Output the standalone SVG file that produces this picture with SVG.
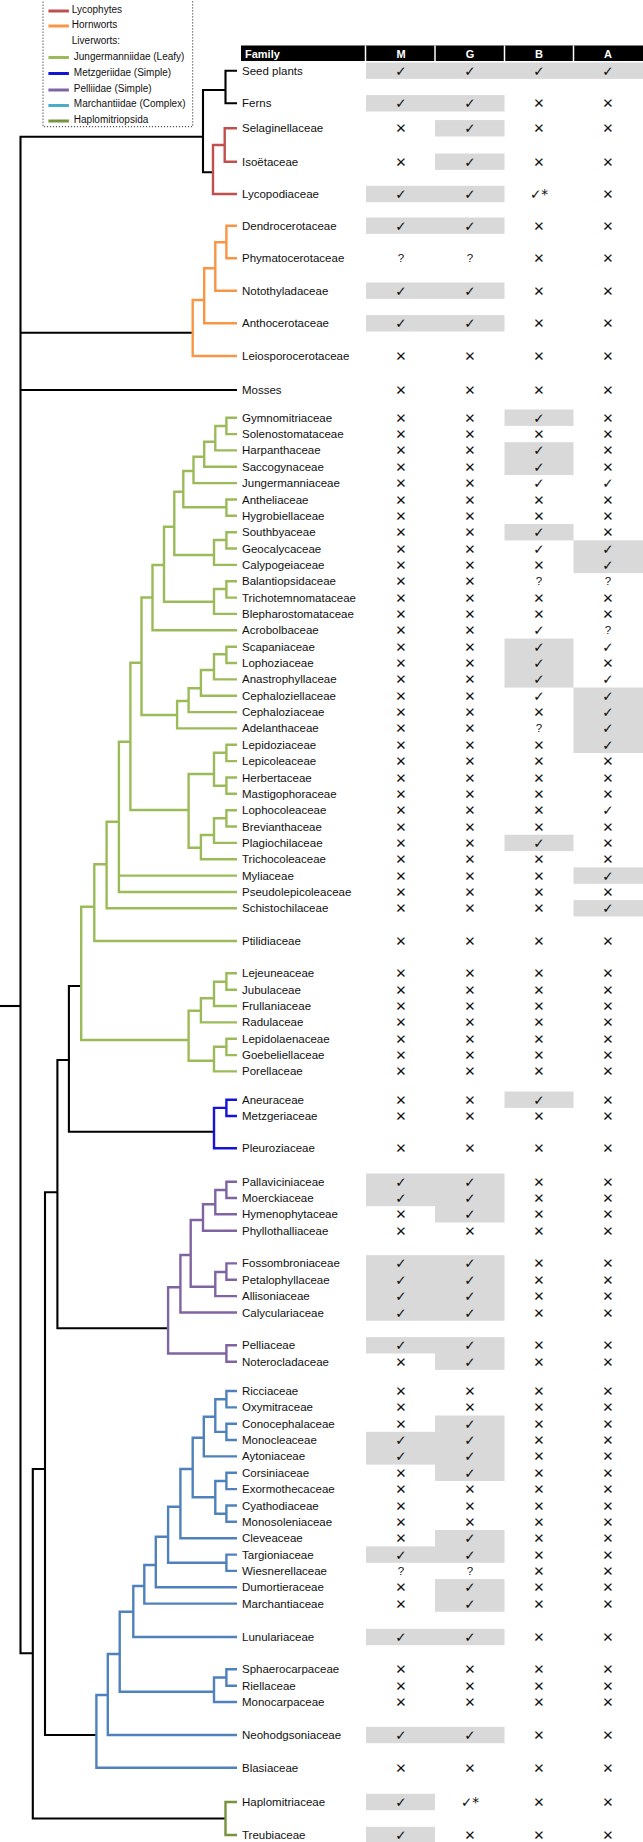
<svg xmlns="http://www.w3.org/2000/svg" width="643" height="1842" viewBox="0 0 643 1842">
<style>
.l{font-family:"Liberation Sans",Arial,sans-serif;font-size:11.5px;fill:#111}
.c{font-family:"DejaVu Sans",sans-serif;font-size:13.5px;fill:#111;text-anchor:middle;transform:translateY(1px)}
.q{font-family:"Liberation Sans",Arial,sans-serif;font-size:11.5px;fill:#111;text-anchor:middle}
.h{font-family:"Liberation Sans",Arial,sans-serif;font-size:11px;font-weight:bold;fill:#fff}
.lg{font-family:"Liberation Sans",Arial,sans-serif;font-size:10px;fill:#111}
.gr{fill:#d9d9d9}
.t{fill:none;stroke-width:2.4;stroke-linejoin:miter}
.bk{stroke:#000;stroke-width:2.1}
.red{stroke:#c0504d}
.org{stroke:#f79646}
.grn{stroke:#9bbb59}
.blu{stroke:#1414d8}
.pur{stroke:#8064a2}
.mar{stroke:#4f81bd}
.hap{stroke:#77933c}
</style>
<rect width="643" height="1842" fill="#fff"/>
<g id="legend">
<rect x="43" y="-2" width="149.7" height="128.7" fill="none" stroke="#333" stroke-width="1" stroke-dasharray="1.2 1.8"/>
<line x1="48.4" y1="11" x2="68.9" y2="11" stroke="#c0504d" stroke-width="3"/>
<text class="lg" x="71.8" y="13">Lycophytes</text>
<line x1="48.4" y1="26" x2="68.9" y2="26" stroke="#f79646" stroke-width="3"/>
<text class="lg" x="71.8" y="28">Hornworts</text>
<text class="lg" x="71.8" y="44">Liverworts:</text>
<line x1="48.4" y1="57.5" x2="68.9" y2="57.5" stroke="#9bbb59" stroke-width="3"/>
<text class="lg" x="73.8" y="59.7">Jungermanniidae (Leafy)</text>
<line x1="48.4" y1="73.5" x2="68.9" y2="73.5" stroke="#1414d8" stroke-width="3"/>
<text class="lg" x="73.8" y="75.7">Metzgeriidae (Simple)</text>
<line x1="48.4" y1="90" x2="68.9" y2="90" stroke="#8064a2" stroke-width="3"/>
<text class="lg" x="73.8" y="92.3">Pelliidae (Simple)</text>
<line x1="48.4" y1="105.5" x2="68.9" y2="105.5" stroke="#4bacc6" stroke-width="3"/>
<text class="lg" x="73.8" y="107.3">Marchantiidae (Complex)</text>
<line x1="48.4" y1="121" x2="68.9" y2="121" stroke="#77933c" stroke-width="3"/>
<text class="lg" x="73.8" y="123">Haplomitriopsida</text>
</g>
<g id="header">
<rect x="241" y="45.5" width="402" height="15.5" fill="#000"/>
<g stroke="#fff" stroke-width="1.5"><line x1="365.5" y1="45.5" x2="365.5" y2="61"/><line x1="435" y1="45.5" x2="435" y2="61"/><line x1="504.5" y1="45.5" x2="504.5" y2="61"/><line x1="573.5" y1="45.5" x2="573.5" y2="61"/></g>
<text class="h" x="245" y="57.5">Family</text>
<text class="h" x="401" y="57.5" text-anchor="middle">M</text>
<text class="h" x="470" y="57.5" text-anchor="middle">G</text>
<text class="h" x="539" y="57.5" text-anchor="middle">B</text>
<text class="h" x="608" y="57.5" text-anchor="middle">A</text>
</g>
<g id="highlights" class="gr">
<rect x="366" y="62.5" width="277" height="16.4"/>
<rect x="366" y="95.1" width="138.5" height="16.4"/>
<rect x="366" y="185.8" width="138.5" height="16.4"/>
<rect x="366" y="217.5" width="138.5" height="16.4"/>
<rect x="366" y="282.5" width="138.5" height="16.4"/>
<rect x="366" y="315.1" width="138.5" height="16.4"/>
<rect x="435" y="120.1" width="69.5" height="16.4"/>
<rect x="435" y="153.5" width="69.5" height="16.4"/>
<rect x="504.5" y="409.5" width="69" height="16.4"/>
<rect x="504.5" y="442.2" width="69" height="32.8"/>
<rect x="504.5" y="524" width="69" height="16.4"/>
<rect x="504.5" y="638.5" width="69" height="49.1"/>
<rect x="504.5" y="834.7" width="69" height="16.4"/>
<rect x="504.5" y="1091.5" width="69" height="16.4"/>
<rect x="573.5" y="540.3" width="69.5" height="32.8"/>
<rect x="573.5" y="687.5" width="69.5" height="65.5"/>
<rect x="573.5" y="867.4" width="69.5" height="16.4"/>
<rect x="573.5" y="900.1" width="69.5" height="16.4"/>
<rect x="366" y="1173.5" width="138.5" height="32.7"/>
<rect x="435" y="1206" width="69.5" height="16.5"/>
<rect x="366" y="1255.2" width="138.5" height="65.5"/>
<rect x="366" y="1337.1" width="138.5" height="16.4"/>
<rect x="435" y="1353" width="69.5" height="16.9"/>
<rect x="435" y="1415.5" width="69.5" height="65.5"/>
<rect x="366" y="1431.8" width="69" height="32.8"/>
<rect x="435" y="1530" width="69.5" height="32.8"/>
<rect x="366" y="1546.4" width="69" height="16.4"/>
<rect x="435" y="1579.1" width="69.5" height="32.7"/>
<rect x="366" y="1628.8" width="138.5" height="16.4"/>
<rect x="366" y="1726.8" width="138.5" height="16.4"/>
<rect x="366" y="1793.8" width="69" height="16.4"/>
<rect x="366" y="1826.8" width="69" height="16.4"/>
</g>
<g id="connectors" class="t">
<g class="bk">
<path d="M0 1006 H20.5"/>
<path d="M203 136.7 H20.5 V1653.3 H32.8"/>
<path d="M20.5 332.7 H192.7"/>
<path d="M20.5 390 H237"/>
<path d="M237 70.7 H225.5 V103.3 H237"/>
<path d="M213 172.3 H203 V90 H225.5"/>
<path d="M45 1469 H32.8 V1818.5 H225.5"/>
<path d="M96.4 1735 H45 V1192.3 H57.4"/>
<path d="M168.1 1328.3 H57.4 V1060 H68.9"/>
<path d="M214 1131.7 H68.9 V986 H81.2"/>
</g>
<g class="red">
<path d="M237 128.3 H224.7 V161.7 H237"/>
<path d="M224.7 145 H213 V194 H237"/>
</g>
<g class="org">
<path d="M237 225.7 H226.4 V258.3 H237"/>
<path d="M226.4 242.3 H215.3 V290.7 H237"/>
<path d="M215.3 268.3 H204.2 V323.3 H237"/>
<path d="M204.2 300 H192.7 V356 H237"/>
</g>
<g class="grn">
<path d="M237 417.7 H226.4 V434.1 H237"/>
<path d="M226.4 426 H215.3 V450.4 H237"/>
<path d="M215.3 441.7 H204.2 V466.8 H237"/>
<path d="M204.2 456.7 H193.5 V483.1 H237"/>
<path d="M193.5 471 H183.3 V507.3 H226.4"/>
<path d="M237 499.5 H226.4 V515.8 H237"/>
<path d="M183.3 491.7 H174.3 V555 H214"/>
<path d="M226.4 540 H214 V564.9 H237"/>
<path d="M237 532.2 H226.4 V548.5 H237"/>
<path d="M174.3 526.7 H164 V601.7 H214"/>
<path d="M226.4 589 H214 V613.9 H237"/>
<path d="M237 581.2 H226.4 V597.6 H237"/>
<path d="M164 565 H152.5 V630.3 H237"/>
<path d="M152.5 597.5 H141.5 V715 H177.1"/>
<path d="M188.6 701 H177.1 V728.4 H237"/>
<path d="M200.9 688.3 H188.6 V712.1 H237"/>
<path d="M214 670 H200.9 V695.7 H237"/>
<path d="M226.4 654.3 H214 V679.4 H237"/>
<path d="M237 646.7 H226.4 V663 H237"/>
<path d="M141.5 662.7 H130.4 V810 H188.6"/>
<path d="M214 774 H188.6 V847.7 H200.9"/>
<path d="M237 744.8 H226.4 V761.1 H237"/>
<path d="M226.4 752.7 H214 V785.7 H226.4"/>
<path d="M237 777.5 H226.4 V793.8 H237"/>
<path d="M214 835 H200.9 V859.2 H237"/>
<path d="M226.4 818.3 H214 V842.9 H237"/>
<path d="M237 810.2 H226.4 V826.5 H237"/>
<path d="M130.4 741.7 H118.9 V892 H237"/>
<path d="M118.9 875.6 H237"/>
<path d="M118.9 821.7 H106.6 V908.3 H237"/>
<path d="M106.6 864.3 H94.3 V941 H237"/>
<path d="M94.3 906.7 H81.2 V1040 H188.6"/>
<path d="M237 973.3 H226.4 V989.7 H237"/>
<path d="M226.4 981.7 H214 V1006 H237"/>
<path d="M214 998.3 H200.9 V1022.4 H237"/>
<path d="M200.9 1010.7 H188.6 V1060.7 H214"/>
<path d="M226.4 1046.7 H214 V1071.4 H237"/>
<path d="M237 1038.7 H226.4 V1055.1 H237"/>
</g>
<g class="blu">
<path d="M237 1099.7 H226.4 V1116 H237"/>
<path d="M226.4 1107.9 H214 V1148.3 H237"/>
</g>
<g class="pur">
<path d="M237 1181.7 H226.4 V1198 H237"/>
<path d="M226.4 1190 H215.3 V1214.3 H237"/>
<path d="M215.3 1204.3 H203 V1230.7 H237"/>
<path d="M203 1220 H190.7 V1286.7 H215.3"/>
<path d="M226.4 1272 H215.3 V1296.1 H237"/>
<path d="M237 1263.4 H226.4 V1279.8 H237"/>
<path d="M190.7 1255 H180.4 V1312.5 H237"/>
<path d="M180.4 1287.3 H168.1 V1353.5 H226.4"/>
<path d="M237 1345.3 H226.4 V1361.7 H237"/>
</g>
<g class="mar">
<path d="M237 1391 H226.4 V1407.4 H237"/>
<path d="M237 1423.7 H226.4 V1440 H237"/>
<path d="M226.4 1399.2 H215.3 V1431.9 H226.4"/>
<path d="M215.3 1416.7 H203.8 V1456.4 H237"/>
<path d="M203.8 1437.7 H192.7 V1497.3 H215.3"/>
<path d="M226.4 1481 H215.3 V1513.7 H226.4"/>
<path d="M237 1472.8 H226.4 V1489.1 H237"/>
<path d="M237 1505.5 H226.4 V1521.8 H237"/>
<path d="M192.7 1469 H180.4 V1538.2 H237"/>
<path d="M180.4 1506.7 H168.1 V1562.8 H226.4"/>
<path d="M237 1554.6 H226.4 V1570.9 H237"/>
<path d="M168.1 1536.7 H155.8 V1587.3 H237"/>
<path d="M155.8 1565 H144.3 V1603.6 H237"/>
<path d="M144.3 1586 H133.3 V1637 H237"/>
<path d="M133.3 1611.7 H119.7 V1691.7 H214"/>
<path d="M226.4 1677.5 H214 V1702 H237"/>
<path d="M237 1669.3 H226.4 V1685.7 H237"/>
<path d="M119.7 1654 H107.8 V1735 H237"/>
<path d="M107.8 1695 H96.4 V1767.7 H237"/>
</g>
<g class="hap">
<path d="M237 1802 H225.5 V1835 H237"/>
</g>
</g>
<g id="seed-plants"><text class="l" x="242" y="74.7">Seed plants</text><text class="c" x="401" y="74.7">✓</text><text class="c" x="470" y="74.7">✓</text><text class="c" x="539" y="74.7">✓</text><text class="c" x="608" y="74.7">✓</text></g>
<g id="ferns"><text class="l" x="242" y="107.3">Ferns</text><text class="c" x="401" y="107.3">✓</text><text class="c" x="470" y="107.3">✓</text><text class="c" x="539" y="107.3">✕</text><text class="c" x="608" y="107.3">✕</text></g>
<g id="selaginellaceae"><text class="l" x="242" y="132.3">Selaginellaceae</text><text class="c" x="401" y="132.3">✕</text><text class="c" x="470" y="132.3">✓</text><text class="c" x="539" y="132.3">✕</text><text class="c" x="608" y="132.3">✕</text></g>
<g id="isoetaceae"><text class="l" x="242" y="165.7">Isoëtaceae</text><text class="c" x="401" y="165.7">✕</text><text class="c" x="470" y="165.7">✓</text><text class="c" x="539" y="165.7">✕</text><text class="c" x="608" y="165.7">✕</text></g>
<g id="lycopodiaceae"><text class="l" x="242" y="198">Lycopodiaceae</text><text class="c" x="401" y="198">✓</text><text class="c" x="470" y="198">✓</text><text class="c" x="539" y="198">✓*</text><text class="c" x="608" y="198">✕</text></g>
<g id="dendrocerotaceae"><text class="l" x="242" y="229.7">Dendrocerotaceae</text><text class="c" x="401" y="229.7">✓</text><text class="c" x="470" y="229.7">✓</text><text class="c" x="539" y="229.7">✕</text><text class="c" x="608" y="229.7">✕</text></g>
<g id="phymatocerotaceae"><text class="l" x="242" y="262.3">Phymatocerotaceae</text><text class="q" x="401" y="262.3">?</text><text class="q" x="470" y="262.3">?</text><text class="c" x="539" y="262.3">✕</text><text class="c" x="608" y="262.3">✕</text></g>
<g id="notothyladaceae"><text class="l" x="242" y="294.7">Notothyladaceae</text><text class="c" x="401" y="294.7">✓</text><text class="c" x="470" y="294.7">✓</text><text class="c" x="539" y="294.7">✕</text><text class="c" x="608" y="294.7">✕</text></g>
<g id="anthocerotaceae"><text class="l" x="242" y="327.3">Anthocerotaceae</text><text class="c" x="401" y="327.3">✓</text><text class="c" x="470" y="327.3">✓</text><text class="c" x="539" y="327.3">✕</text><text class="c" x="608" y="327.3">✕</text></g>
<g id="leiosporocerotaceae"><text class="l" x="242" y="360">Leiosporocerotaceae</text><text class="c" x="401" y="360">✕</text><text class="c" x="470" y="360">✕</text><text class="c" x="539" y="360">✕</text><text class="c" x="608" y="360">✕</text></g>
<g id="mosses"><text class="l" x="242" y="394">Mosses</text><text class="c" x="401" y="394">✕</text><text class="c" x="470" y="394">✕</text><text class="c" x="539" y="394">✕</text><text class="c" x="608" y="394">✕</text></g>
<g id="gymnomitriaceae"><text class="l" x="242" y="421.7">Gymnomitriaceae</text><text class="c" x="401" y="421.7">✕</text><text class="c" x="470" y="421.7">✕</text><text class="c" x="539" y="421.7">✓</text><text class="c" x="608" y="421.7">✕</text></g>
<g id="solenostomataceae"><text class="l" x="242" y="438.1">Solenostomataceae</text><text class="c" x="401" y="438.1">✕</text><text class="c" x="470" y="438.1">✕</text><text class="c" x="539" y="438.1">✕</text><text class="c" x="608" y="438.1">✕</text></g>
<g id="harpanthaceae"><text class="l" x="242" y="454.4">Harpanthaceae</text><text class="c" x="401" y="454.4">✕</text><text class="c" x="470" y="454.4">✕</text><text class="c" x="539" y="454.4">✓</text><text class="c" x="608" y="454.4">✕</text></g>
<g id="saccogynaceae"><text class="l" x="242" y="470.8">Saccogynaceae</text><text class="c" x="401" y="470.8">✕</text><text class="c" x="470" y="470.8">✕</text><text class="c" x="539" y="470.8">✓</text><text class="c" x="608" y="470.8">✕</text></g>
<g id="jungermanniaceae"><text class="l" x="242" y="487.1">Jungermanniaceae</text><text class="c" x="401" y="487.1">✕</text><text class="c" x="470" y="487.1">✕</text><text class="c" x="539" y="487.1">✓</text><text class="c" x="608" y="487.1">✓</text></g>
<g id="antheliaceae"><text class="l" x="242" y="503.5">Antheliaceae</text><text class="c" x="401" y="503.5">✕</text><text class="c" x="470" y="503.5">✕</text><text class="c" x="539" y="503.5">✕</text><text class="c" x="608" y="503.5">✕</text></g>
<g id="hygrobiellaceae"><text class="l" x="242" y="519.8">Hygrobiellaceae</text><text class="c" x="401" y="519.8">✕</text><text class="c" x="470" y="519.8">✕</text><text class="c" x="539" y="519.8">✕</text><text class="c" x="608" y="519.8">✕</text></g>
<g id="southbyaceae"><text class="l" x="242" y="536.2">Southbyaceae</text><text class="c" x="401" y="536.2">✕</text><text class="c" x="470" y="536.2">✕</text><text class="c" x="539" y="536.2">✓</text><text class="c" x="608" y="536.2">✕</text></g>
<g id="geocalycaceae"><text class="l" x="242" y="552.5">Geocalycaceae</text><text class="c" x="401" y="552.5">✕</text><text class="c" x="470" y="552.5">✕</text><text class="c" x="539" y="552.5">✓</text><text class="c" x="608" y="552.5">✓</text></g>
<g id="calypogeiaceae"><text class="l" x="242" y="568.9">Calypogeiaceae</text><text class="c" x="401" y="568.9">✕</text><text class="c" x="470" y="568.9">✕</text><text class="c" x="539" y="568.9">✕</text><text class="c" x="608" y="568.9">✓</text></g>
<g id="balantiopsidaceae"><text class="l" x="242" y="585.2">Balantiopsidaceae</text><text class="c" x="401" y="585.2">✕</text><text class="c" x="470" y="585.2">✕</text><text class="q" x="539" y="585.2">?</text><text class="q" x="608" y="585.2">?</text></g>
<g id="trichotemnomataceae"><text class="l" x="242" y="601.6">Trichotemnomataceae</text><text class="c" x="401" y="601.6">✕</text><text class="c" x="470" y="601.6">✕</text><text class="c" x="539" y="601.6">✕</text><text class="c" x="608" y="601.6">✕</text></g>
<g id="blepharostomataceae"><text class="l" x="242" y="617.9">Blepharostomataceae</text><text class="c" x="401" y="617.9">✕</text><text class="c" x="470" y="617.9">✕</text><text class="c" x="539" y="617.9">✕</text><text class="c" x="608" y="617.9">✕</text></g>
<g id="acrobolbaceae"><text class="l" x="242" y="634.3">Acrobolbaceae</text><text class="c" x="401" y="634.3">✕</text><text class="c" x="470" y="634.3">✕</text><text class="c" x="539" y="634.3">✓</text><text class="q" x="608" y="634.3">?</text></g>
<g id="scapaniaceae"><text class="l" x="242" y="650.7">Scapaniaceae</text><text class="c" x="401" y="650.7">✕</text><text class="c" x="470" y="650.7">✕</text><text class="c" x="539" y="650.7">✓</text><text class="c" x="608" y="650.7">✓</text></g>
<g id="lophoziaceae"><text class="l" x="242" y="667">Lophoziaceae</text><text class="c" x="401" y="667">✕</text><text class="c" x="470" y="667">✕</text><text class="c" x="539" y="667">✓</text><text class="c" x="608" y="667">✕</text></g>
<g id="anastrophyllaceae"><text class="l" x="242" y="683.4">Anastrophyllaceae</text><text class="c" x="401" y="683.4">✕</text><text class="c" x="470" y="683.4">✕</text><text class="c" x="539" y="683.4">✓</text><text class="c" x="608" y="683.4">✓</text></g>
<g id="cephaloziellaceae"><text class="l" x="242" y="699.7">Cephaloziellaceae</text><text class="c" x="401" y="699.7">✕</text><text class="c" x="470" y="699.7">✕</text><text class="c" x="539" y="699.7">✓</text><text class="c" x="608" y="699.7">✓</text></g>
<g id="cephaloziaceae"><text class="l" x="242" y="716.1">Cephaloziaceae</text><text class="c" x="401" y="716.1">✕</text><text class="c" x="470" y="716.1">✕</text><text class="c" x="539" y="716.1">✕</text><text class="c" x="608" y="716.1">✓</text></g>
<g id="adelanthaceae"><text class="l" x="242" y="732.4">Adelanthaceae</text><text class="c" x="401" y="732.4">✕</text><text class="c" x="470" y="732.4">✕</text><text class="q" x="539" y="732.4">?</text><text class="c" x="608" y="732.4">✓</text></g>
<g id="lepidoziaceae"><text class="l" x="242" y="748.8">Lepidoziaceae</text><text class="c" x="401" y="748.8">✕</text><text class="c" x="470" y="748.8">✕</text><text class="c" x="539" y="748.8">✕</text><text class="c" x="608" y="748.8">✓</text></g>
<g id="lepicoleaceae"><text class="l" x="242" y="765.1">Lepicoleaceae</text><text class="c" x="401" y="765.1">✕</text><text class="c" x="470" y="765.1">✕</text><text class="c" x="539" y="765.1">✕</text><text class="c" x="608" y="765.1">✕</text></g>
<g id="herbertaceae"><text class="l" x="242" y="781.5">Herbertaceae</text><text class="c" x="401" y="781.5">✕</text><text class="c" x="470" y="781.5">✕</text><text class="c" x="539" y="781.5">✕</text><text class="c" x="608" y="781.5">✕</text></g>
<g id="mastigophoraceae"><text class="l" x="242" y="797.8">Mastigophoraceae</text><text class="c" x="401" y="797.8">✕</text><text class="c" x="470" y="797.8">✕</text><text class="c" x="539" y="797.8">✕</text><text class="c" x="608" y="797.8">✕</text></g>
<g id="lophocoleaceae"><text class="l" x="242" y="814.2">Lophocoleaceae</text><text class="c" x="401" y="814.2">✕</text><text class="c" x="470" y="814.2">✕</text><text class="c" x="539" y="814.2">✕</text><text class="c" x="608" y="814.2">✓</text></g>
<g id="brevianthaceae"><text class="l" x="242" y="830.5">Brevianthaceae</text><text class="c" x="401" y="830.5">✕</text><text class="c" x="470" y="830.5">✕</text><text class="c" x="539" y="830.5">✕</text><text class="c" x="608" y="830.5">✕</text></g>
<g id="plagiochilaceae"><text class="l" x="242" y="846.9">Plagiochilaceae</text><text class="c" x="401" y="846.9">✕</text><text class="c" x="470" y="846.9">✕</text><text class="c" x="539" y="846.9">✓</text><text class="c" x="608" y="846.9">✕</text></g>
<g id="trichocoleaceae"><text class="l" x="242" y="863.2">Trichocoleaceae</text><text class="c" x="401" y="863.2">✕</text><text class="c" x="470" y="863.2">✕</text><text class="c" x="539" y="863.2">✕</text><text class="c" x="608" y="863.2">✕</text></g>
<g id="myliaceae"><text class="l" x="242" y="879.6">Myliaceae</text><text class="c" x="401" y="879.6">✕</text><text class="c" x="470" y="879.6">✕</text><text class="c" x="539" y="879.6">✕</text><text class="c" x="608" y="879.6">✓</text></g>
<g id="pseudolepicoleaceae"><text class="l" x="242" y="896">Pseudolepicoleaceae</text><text class="c" x="401" y="896">✕</text><text class="c" x="470" y="896">✕</text><text class="c" x="539" y="896">✕</text><text class="c" x="608" y="896">✕</text></g>
<g id="schistochilaceae"><text class="l" x="242" y="912.3">Schistochilaceae</text><text class="c" x="401" y="912.3">✕</text><text class="c" x="470" y="912.3">✕</text><text class="c" x="539" y="912.3">✕</text><text class="c" x="608" y="912.3">✓</text></g>
<g id="ptilidiaceae"><text class="l" x="242" y="945">Ptilidiaceae</text><text class="c" x="401" y="945">✕</text><text class="c" x="470" y="945">✕</text><text class="c" x="539" y="945">✕</text><text class="c" x="608" y="945">✕</text></g>
<g id="lejeuneaceae"><text class="l" x="242" y="977.3">Lejeuneaceae</text><text class="c" x="401" y="977.3">✕</text><text class="c" x="470" y="977.3">✕</text><text class="c" x="539" y="977.3">✕</text><text class="c" x="608" y="977.3">✕</text></g>
<g id="jubulaceae"><text class="l" x="242" y="993.7">Jubulaceae</text><text class="c" x="401" y="993.7">✕</text><text class="c" x="470" y="993.7">✕</text><text class="c" x="539" y="993.7">✕</text><text class="c" x="608" y="993.7">✕</text></g>
<g id="frullaniaceae"><text class="l" x="242" y="1010">Frullaniaceae</text><text class="c" x="401" y="1010">✕</text><text class="c" x="470" y="1010">✕</text><text class="c" x="539" y="1010">✕</text><text class="c" x="608" y="1010">✕</text></g>
<g id="radulaceae"><text class="l" x="242" y="1026.4">Radulaceae</text><text class="c" x="401" y="1026.4">✕</text><text class="c" x="470" y="1026.4">✕</text><text class="c" x="539" y="1026.4">✕</text><text class="c" x="608" y="1026.4">✕</text></g>
<g id="lepidolaenaceae"><text class="l" x="242" y="1042.7">Lepidolaenaceae</text><text class="c" x="401" y="1042.7">✕</text><text class="c" x="470" y="1042.7">✕</text><text class="c" x="539" y="1042.7">✕</text><text class="c" x="608" y="1042.7">✕</text></g>
<g id="goebeliellaceae"><text class="l" x="242" y="1059.1">Goebeliellaceae</text><text class="c" x="401" y="1059.1">✕</text><text class="c" x="470" y="1059.1">✕</text><text class="c" x="539" y="1059.1">✕</text><text class="c" x="608" y="1059.1">✕</text></g>
<g id="porellaceae"><text class="l" x="242" y="1075.4">Porellaceae</text><text class="c" x="401" y="1075.4">✕</text><text class="c" x="470" y="1075.4">✕</text><text class="c" x="539" y="1075.4">✕</text><text class="c" x="608" y="1075.4">✕</text></g>
<g id="aneuraceae"><text class="l" x="242" y="1103.7">Aneuraceae</text><text class="c" x="401" y="1103.7">✕</text><text class="c" x="470" y="1103.7">✕</text><text class="c" x="539" y="1103.7">✓</text><text class="c" x="608" y="1103.7">✕</text></g>
<g id="metzgeriaceae"><text class="l" x="242" y="1120">Metzgeriaceae</text><text class="c" x="401" y="1120">✕</text><text class="c" x="470" y="1120">✕</text><text class="c" x="539" y="1120">✕</text><text class="c" x="608" y="1120">✕</text></g>
<g id="pleuroziaceae"><text class="l" x="242" y="1152.3">Pleuroziaceae</text><text class="c" x="401" y="1152.3">✕</text><text class="c" x="470" y="1152.3">✕</text><text class="c" x="539" y="1152.3">✕</text><text class="c" x="608" y="1152.3">✕</text></g>
<g id="pallaviciniaceae"><text class="l" x="242" y="1185.7">Pallaviciniaceae</text><text class="c" x="401" y="1185.7">✓</text><text class="c" x="470" y="1185.7">✓</text><text class="c" x="539" y="1185.7">✕</text><text class="c" x="608" y="1185.7">✕</text></g>
<g id="moerckiaceae"><text class="l" x="242" y="1202">Moerckiaceae</text><text class="c" x="401" y="1202">✓</text><text class="c" x="470" y="1202">✓</text><text class="c" x="539" y="1202">✕</text><text class="c" x="608" y="1202">✕</text></g>
<g id="hymenophytaceae"><text class="l" x="242" y="1218.3">Hymenophytaceae</text><text class="c" x="401" y="1218.3">✕</text><text class="c" x="470" y="1218.3">✓</text><text class="c" x="539" y="1218.3">✕</text><text class="c" x="608" y="1218.3">✕</text></g>
<g id="phyllothalliaceae"><text class="l" x="242" y="1234.7">Phyllothalliaceae</text><text class="c" x="401" y="1234.7">✕</text><text class="c" x="470" y="1234.7">✕</text><text class="c" x="539" y="1234.7">✕</text><text class="c" x="608" y="1234.7">✕</text></g>
<g id="fossombroniaceae"><text class="l" x="242" y="1267.4">Fossombroniaceae</text><text class="c" x="401" y="1267.4">✓</text><text class="c" x="470" y="1267.4">✓</text><text class="c" x="539" y="1267.4">✕</text><text class="c" x="608" y="1267.4">✕</text></g>
<g id="petalophyllaceae"><text class="l" x="242" y="1283.8">Petalophyllaceae</text><text class="c" x="401" y="1283.8">✓</text><text class="c" x="470" y="1283.8">✓</text><text class="c" x="539" y="1283.8">✕</text><text class="c" x="608" y="1283.8">✕</text></g>
<g id="allisoniaceae"><text class="l" x="242" y="1300.1">Allisoniaceae</text><text class="c" x="401" y="1300.1">✓</text><text class="c" x="470" y="1300.1">✓</text><text class="c" x="539" y="1300.1">✕</text><text class="c" x="608" y="1300.1">✕</text></g>
<g id="calyculariaceae"><text class="l" x="242" y="1316.5">Calyculariaceae</text><text class="c" x="401" y="1316.5">✓</text><text class="c" x="470" y="1316.5">✓</text><text class="c" x="539" y="1316.5">✕</text><text class="c" x="608" y="1316.5">✕</text></g>
<g id="pelliaceae"><text class="l" x="242" y="1349.3">Pelliaceae</text><text class="c" x="401" y="1349.3">✓</text><text class="c" x="470" y="1349.3">✓</text><text class="c" x="539" y="1349.3">✕</text><text class="c" x="608" y="1349.3">✕</text></g>
<g id="noterocladaceae"><text class="l" x="242" y="1365.7">Noterocladaceae</text><text class="c" x="401" y="1365.7">✕</text><text class="c" x="470" y="1365.7">✓</text><text class="c" x="539" y="1365.7">✕</text><text class="c" x="608" y="1365.7">✕</text></g>
<g id="ricciaceae"><text class="l" x="242" y="1395">Ricciaceae</text><text class="c" x="401" y="1395">✕</text><text class="c" x="470" y="1395">✕</text><text class="c" x="539" y="1395">✕</text><text class="c" x="608" y="1395">✕</text></g>
<g id="oxymitraceae"><text class="l" x="242" y="1411.4">Oxymitraceae</text><text class="c" x="401" y="1411.4">✕</text><text class="c" x="470" y="1411.4">✕</text><text class="c" x="539" y="1411.4">✕</text><text class="c" x="608" y="1411.4">✕</text></g>
<g id="conocephalaceae"><text class="l" x="242" y="1427.7">Conocephalaceae</text><text class="c" x="401" y="1427.7">✕</text><text class="c" x="470" y="1427.7">✓</text><text class="c" x="539" y="1427.7">✕</text><text class="c" x="608" y="1427.7">✕</text></g>
<g id="monocleaceae"><text class="l" x="242" y="1444">Monocleaceae</text><text class="c" x="401" y="1444">✓</text><text class="c" x="470" y="1444">✓</text><text class="c" x="539" y="1444">✕</text><text class="c" x="608" y="1444">✕</text></g>
<g id="aytoniaceae"><text class="l" x="242" y="1460.4">Aytoniaceae</text><text class="c" x="401" y="1460.4">✓</text><text class="c" x="470" y="1460.4">✓</text><text class="c" x="539" y="1460.4">✕</text><text class="c" x="608" y="1460.4">✕</text></g>
<g id="corsiniaceae"><text class="l" x="242" y="1476.8">Corsiniaceae</text><text class="c" x="401" y="1476.8">✕</text><text class="c" x="470" y="1476.8">✓</text><text class="c" x="539" y="1476.8">✕</text><text class="c" x="608" y="1476.8">✕</text></g>
<g id="exormothecaceae"><text class="l" x="242" y="1493.1">Exormothecaceae</text><text class="c" x="401" y="1493.1">✕</text><text class="c" x="470" y="1493.1">✕</text><text class="c" x="539" y="1493.1">✕</text><text class="c" x="608" y="1493.1">✕</text></g>
<g id="cyathodiaceae"><text class="l" x="242" y="1509.5">Cyathodiaceae</text><text class="c" x="401" y="1509.5">✕</text><text class="c" x="470" y="1509.5">✕</text><text class="c" x="539" y="1509.5">✕</text><text class="c" x="608" y="1509.5">✕</text></g>
<g id="monosoleniaceae"><text class="l" x="242" y="1525.8">Monosoleniaceae</text><text class="c" x="401" y="1525.8">✕</text><text class="c" x="470" y="1525.8">✕</text><text class="c" x="539" y="1525.8">✕</text><text class="c" x="608" y="1525.8">✕</text></g>
<g id="cleveaceae"><text class="l" x="242" y="1542.2">Cleveaceae</text><text class="c" x="401" y="1542.2">✕</text><text class="c" x="470" y="1542.2">✓</text><text class="c" x="539" y="1542.2">✕</text><text class="c" x="608" y="1542.2">✕</text></g>
<g id="targioniaceae"><text class="l" x="242" y="1558.6">Targioniaceae</text><text class="c" x="401" y="1558.6">✓</text><text class="c" x="470" y="1558.6">✓</text><text class="c" x="539" y="1558.6">✕</text><text class="c" x="608" y="1558.6">✕</text></g>
<g id="wiesnerellaceae"><text class="l" x="242" y="1574.9">Wiesnerellaceae</text><text class="q" x="401" y="1574.9">?</text><text class="q" x="470" y="1574.9">?</text><text class="c" x="539" y="1574.9">✕</text><text class="c" x="608" y="1574.9">✕</text></g>
<g id="dumortieraceae"><text class="l" x="242" y="1591.3">Dumortieraceae</text><text class="c" x="401" y="1591.3">✕</text><text class="c" x="470" y="1591.3">✓</text><text class="c" x="539" y="1591.3">✕</text><text class="c" x="608" y="1591.3">✕</text></g>
<g id="marchantiaceae"><text class="l" x="242" y="1607.6">Marchantiaceae</text><text class="c" x="401" y="1607.6">✕</text><text class="c" x="470" y="1607.6">✓</text><text class="c" x="539" y="1607.6">✕</text><text class="c" x="608" y="1607.6">✕</text></g>
<g id="lunulariaceae"><text class="l" x="242" y="1641">Lunulariaceae</text><text class="c" x="401" y="1641">✓</text><text class="c" x="470" y="1641">✓</text><text class="c" x="539" y="1641">✕</text><text class="c" x="608" y="1641">✕</text></g>
<g id="sphaerocarpaceae"><text class="l" x="242" y="1673.3">Sphaerocarpaceae</text><text class="c" x="401" y="1673.3">✕</text><text class="c" x="470" y="1673.3">✕</text><text class="c" x="539" y="1673.3">✕</text><text class="c" x="608" y="1673.3">✕</text></g>
<g id="riellaceae"><text class="l" x="242" y="1689.7">Riellaceae</text><text class="c" x="401" y="1689.7">✕</text><text class="c" x="470" y="1689.7">✕</text><text class="c" x="539" y="1689.7">✕</text><text class="c" x="608" y="1689.7">✕</text></g>
<g id="monocarpaceae"><text class="l" x="242" y="1706">Monocarpaceae</text><text class="c" x="401" y="1706">✕</text><text class="c" x="470" y="1706">✕</text><text class="c" x="539" y="1706">✕</text><text class="c" x="608" y="1706">✕</text></g>
<g id="neohodgsoniaceae"><text class="l" x="242" y="1739">Neohodgsoniaceae</text><text class="c" x="401" y="1739">✓</text><text class="c" x="470" y="1739">✓</text><text class="c" x="539" y="1739">✕</text><text class="c" x="608" y="1739">✕</text></g>
<g id="blasiaceae"><text class="l" x="242" y="1771.7">Blasiaceae</text><text class="c" x="401" y="1771.7">✕</text><text class="c" x="470" y="1771.7">✕</text><text class="c" x="539" y="1771.7">✕</text><text class="c" x="608" y="1771.7">✕</text></g>
<g id="haplomitriaceae"><text class="l" x="242" y="1806">Haplomitriaceae</text><text class="c" x="401" y="1806">✓</text><text class="c" x="470" y="1806">✓*</text><text class="c" x="539" y="1806">✕</text><text class="c" x="608" y="1806">✕</text></g>
<g id="treubiaceae"><text class="l" x="242" y="1839">Treubiaceae</text><text class="c" x="401" y="1839">✓</text><text class="c" x="470" y="1839">✕</text><text class="c" x="539" y="1839">✕</text><text class="c" x="608" y="1839">✕</text></g>
</svg>
